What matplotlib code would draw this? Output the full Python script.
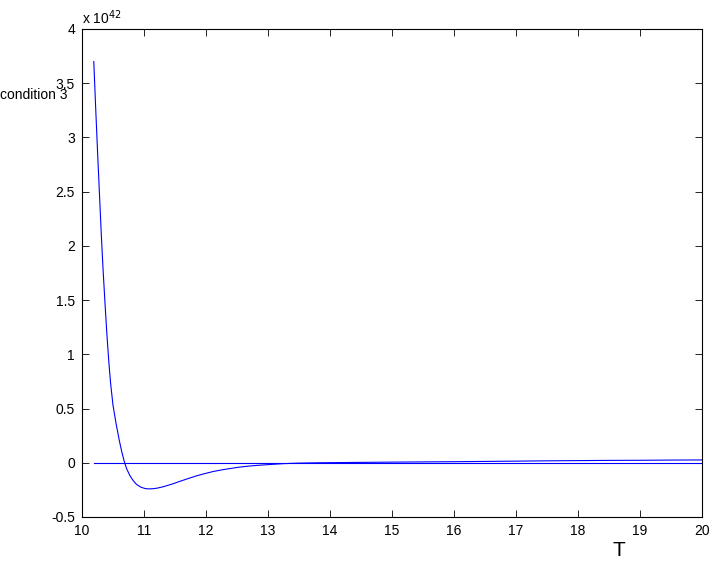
import matplotlib
matplotlib.use("Agg")
import matplotlib.pyplot as plt

plt.rcParams['font.family'] = ['Liberation Sans', 'DejaVu Sans']
plt.rcParams['axes.unicode_minus'] = False

# values in units of 1e42
T = [10.19, 10.22, 10.25, 10.28, 10.31, 10.34, 10.37, 10.40, 10.43, 10.46,
     10.50, 10.55, 10.60, 10.64, 10.68, 10.72, 10.77, 10.82, 10.88, 10.95,
     11.02, 11.08, 11.15, 11.22, 11.31, 11.45, 11.58, 11.72, 11.85, 12.00,
     12.12, 12.25, 12.39, 12.53, 12.68, 12.85, 13.00, 13.25, 13.50, 13.80,
     14.20, 14.60, 15.00, 15.50, 16.00, 16.40, 17.00, 17.50, 18.00, 18.50,
     19.00, 19.50, 20.00]
cond3 = [3.70, 3.28, 2.88, 2.50, 2.12, 1.78, 1.48, 1.20, 0.95, 0.74,
         0.53, 0.36, 0.21, 0.105, 0.015, -0.055, -0.115, -0.16, -0.20, -0.225,
         -0.238, -0.241, -0.239, -0.233, -0.221, -0.197, -0.171, -0.144, -0.120, -0.097,
         -0.080, -0.066, -0.053, -0.041, -0.031, -0.023, -0.017, -0.008, -0.003, 0.000,
         0.002, 0.004, 0.006, 0.008, 0.010, 0.012, 0.015, 0.018, 0.020, 0.022,
         0.023, 0.025, 0.026]
zero_T = [10.2, 20.0]
zero_v = [0.0, 0.0]

xticks = [10, 11, 12, 13, 14, 15, 16, 17, 18, 19, 20]
yticks = [-0.5, 0, 0.5, 1, 1.5, 2, 2.5, 3, 3.5, 4]
ytick_labels = ['-0.5', '0', '0.5', '1', '1.5', '2', '2.5', '3', '3.5', '4']

fig = plt.figure(figsize=(7.14, 5.64), dpi=100)
ax = fig.add_axes([82/714, 1-517/564, 620/714, 488/564])

ax.plot(zero_T, zero_v, color='#0000ff', lw=0.8)
ax.plot(T, cond3, color='#0000ff', lw=0.8)

ax.set_xlim(10, 20)
ax.set_ylim(-0.5, 4)
ax.set_xticks(xticks)
ax.set_xticklabels([str(t) for t in xticks])
ax.set_yticks(yticks)
ax.set_yticklabels(ytick_labels)
ax.tick_params(direction='in', top=True, right=True, length=5, width=0.6,
               labelsize=10, pad=5)
for s in ax.spines.values():
    s.set_linewidth(0.8)

fig.text(82/714, 1-18/564, r'x 10$^{42}$', ha='left', va='center', fontsize=10)
fig.text(0.0, 1-95/564, 'condition 3', ha='left', va='center', fontsize=10)
fig.text(619/714, 1-550/564, 'T', ha='center', va='center', fontsize=15)

fig.savefig('out.png', dpi=100)
